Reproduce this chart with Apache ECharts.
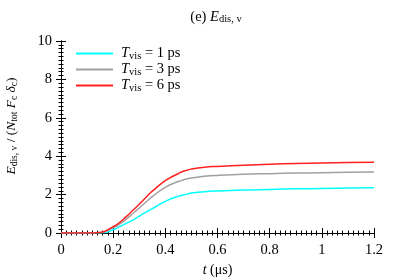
<!DOCTYPE html>
<html><head><meta charset="utf-8">
<script src="https://cdn.jsdelivr.net/npm/echarts@6/dist/echarts.min.js"></script>
<style>html,body{margin:0;padding:0;background:#fff}#c{width:399px;height:278px}</style>
</head><body><div id="c"></div>
<script>
const tValues = [0, 0.05, 0.1, 0.15, 0.17, 0.2, 0.213, 0.25, 0.277, 0.3, 0.341, 0.35, 0.4, 0.45, 0.469, 0.5, 0.55, 0.6, 0.7, 0.8, 0.9, 1.0, 1.1, 1.2];
const cyanValues = [0, 0, 0, 0, 0.02, 0.17, 0.24, 0.5, 0.68, 0.88, 1.2, 1.27, 1.65, 1.92, 1.98, 2.08, 2.15, 2.19, 2.24, 2.27, 2.3, 2.32, 2.34, 2.36];
const grayValues = [0, 0, 0, 0.02, 0.08, 0.28, 0.36, 0.72, 1.03, 1.3, 1.8, 1.9, 2.38, 2.68, 2.76, 2.86, 2.95, 3.0, 3.06, 3.09, 3.12, 3.14, 3.16, 3.18];
const redValues = [0, 0, 0, 0.03, 0.1, 0.33, 0.42, 0.85, 1.2, 1.5, 2.07, 2.18, 2.73, 3.1, 3.22, 3.33, 3.43, 3.47, 3.53, 3.58, 3.62, 3.65, 3.67, 3.68];
const seriesNames = ['T_vis = 1 ps', 'T_vis = 3 ps', 'T_vis = 6 ps'];
const legendLabels = ['1 ps', '3 ps', '6 ps'];
const seriesColors = ['#00ffff', '#a0a0a0', '#ff2020'];
const xTicks = [0, 0.2, 0.4, 0.6, 0.8, 1, 1.2];
const yTicks = [0, 2, 4, 6, 8, 10];

const serif = "Liberation Serif";
const pair = (vals) => tValues.map((t, i) => [t, vals[i]]);
const allData = [cyanValues, grayValues, redValues];

function richSet(main, sub) {
  return {
    n: {fontFamily: serif, fontSize: main, color: '#000', fontWeight: 'normal', lineHeight: 16, verticalAlign: 'middle'},
    i: {fontFamily: serif, fontSize: main, fontStyle: 'italic', fontWeight: 'normal', color: '#000', lineHeight: 16, verticalAlign: 'middle'},
    s: {fontFamily: serif, fontSize: sub, color: '#000', fontWeight: 'normal', lineHeight: 5, verticalAlign: 'bottom'}
  };
}

const tickRich = {a: {fontFamily: serif, fontSize: 14.5, color: '#000', fontWeight: 'normal'}};
const labelStyle = {fontFamily: serif, fontSize: 14.5, color: '#000', fontWeight: 'normal', fontStyle: 'normal', rich: tickRich};

const tickCommon = {
  axisLine: {show: true, lineStyle: {color: '#000', width: 1}},
  axisTick: {show: true, inside: true, length: 5, lineStyle: {color: '#000'}},
  minorTick: {show: true, splitNumber: 10, length: 2.5, lineStyle: {color: '#000'}},
  splitLine: {show: false}
};

const chart = echarts.init(document.getElementById('c'), null, {renderer: 'canvas'});
chart.setOption({
  animation: false,
  backgroundColor: '#fff',
  textStyle: {fontFamily: serif},
  title: {
    text: '{n|(e) }{i|E}{s|dis, v}',
    left: 211, top: 4, textAlign: 'center',
    textStyle: {fontWeight: 'normal', fontFamily: serif, rich: richSet(14.5, 10.5)}
  },
  grid: {left: 61, right: 25, top: 41, bottom: 45, outerBoundsMode: 'none', containLabel: false},
  legend: {
    show: true,
    left: 76, top: 46, orient: 'vertical', padding: 0,
    itemWidth: 37, itemHeight: 2, itemGap: 0.5, icon: 'rect',
    data: seriesNames,
    formatter: function (name) {
      const i = seriesNames.indexOf(name);
      return '{i|T}{s|vis}{n| = ' + legendLabels[i] + '}';
    },
    textStyle: {fontFamily: serif, rich: richSet(14.5, 10.5), padding: [0, 0, 0, 3]}
  },
  xAxis: [
    Object.assign({
      type: 'value', min: 0, max: 1.2, interval: 0.2, position: 'bottom',
      name: '{i|t}{n| (μs)}', nameLocation: 'middle', nameGap: 29,
      nameTextStyle: {fontFamily: serif, rich: richSet(14, 10)},
      axisLabel: Object.assign({margin: 10, formatter: (v) => '{a|' + String(Math.round(v * 10) / 10) + '}'}, labelStyle)
    }, tickCommon),
    Object.assign({
      type: 'value', min: 0, max: 1.2, interval: 0.2, position: 'top',
      axisLabel: {show: false}
    }, tickCommon)
  ],
  yAxis: [
    Object.assign({
      type: 'value', min: 0, max: 10, interval: 2, position: 'left',
      name: '{i|E}{s|dis, v}{n| / (}{i|N}{s|tot}{n| }{i|F}{s|c}{n| }{i|δ}{s|c}{n|)}',
      nameLocation: 'middle', nameGap: 42, nameRotate: 90,
      nameTextStyle: {fontFamily: serif, rich: richSet(13.5, 9.5), padding: [0, 0, 0, 22]},
      axisLabel: Object.assign({margin: 9, formatter: (v) => '{a|' + v + '}'}, labelStyle)
    }, tickCommon),
    Object.assign({
      type: 'value', min: 0, max: 10, interval: 2, position: 'right',
      axisLabel: {show: false}
    }, tickCommon)
  ],
  series: seriesNames.map((n, i) => ({
    name: n, type: 'line', smooth: true, showSymbol: false,
    xAxisIndex: 0, yAxisIndex: 0,
    data: pair(allData[i]),
    lineStyle: {color: seriesColors[i], width: 1.5},
    itemStyle: {color: seriesColors[i]}
  }))
});
</script></body></html>
